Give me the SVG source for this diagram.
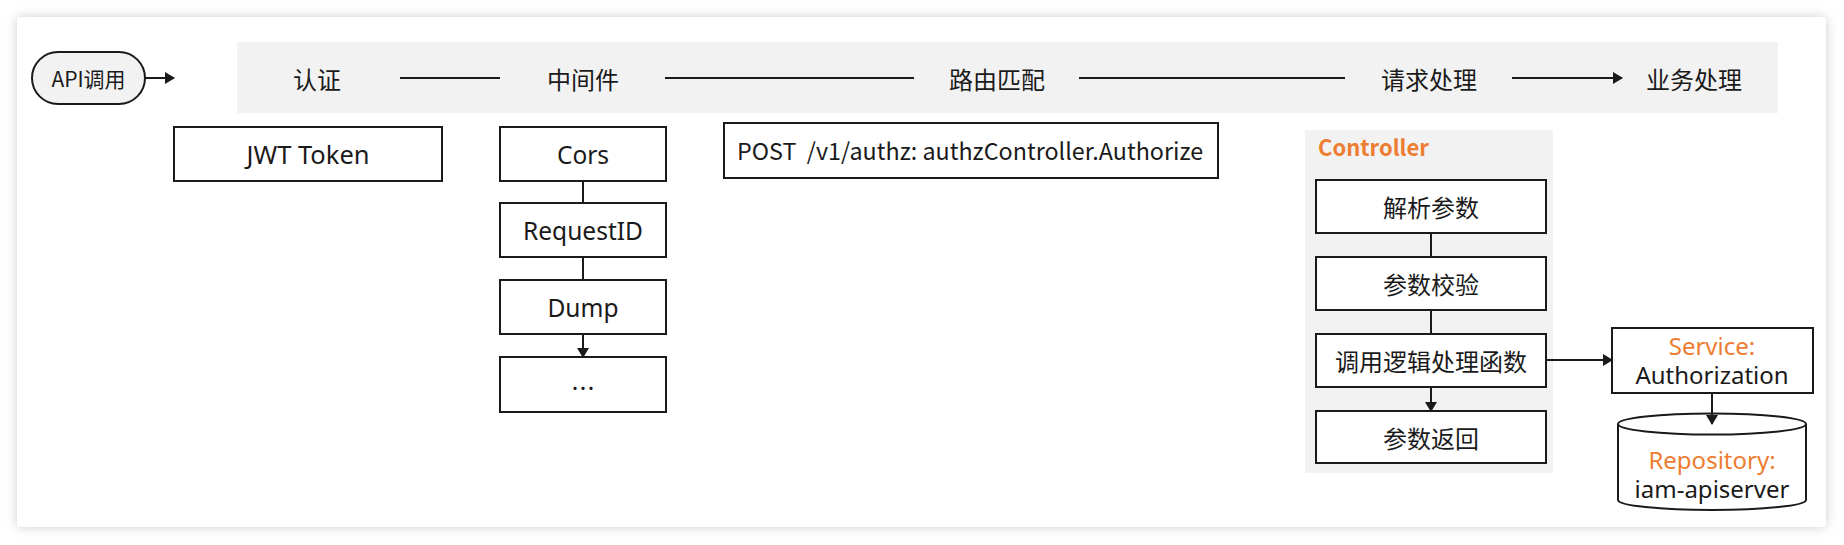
<svg xmlns="http://www.w3.org/2000/svg" width="1844" height="545" viewBox="0 0 1844 545">
  <style>
    .box { fill: #ffffff; stroke: #1a1a1a; stroke-width: 2; }
    .band { fill: #f2f2f2; }
    .cn { font-family: "Noto Sans CJK SC", "Noto Sans", sans-serif; font-size: 24px; fill: #1a1a1a; text-anchor: middle; dominant-baseline: central; }
    .lat { font-family: "Noto Sans", "Open Sans", sans-serif; font-size: 24.5px; fill: #1a1a1a; text-anchor: middle; dominant-baseline: central; }
    .post { font-family: "Noto Sans CJK SC", "Noto Sans", sans-serif; font-size: 23.3px; fill: #1a1a1a; }
    .orange { fill: #ED7D31; }
    .conn { stroke: #1a1a1a; stroke-width: 2; fill: none; }
  </style>
  <defs>
    <marker id="arrL" viewBox="0 0 10 10" refX="9" refY="5" markerWidth="10" markerHeight="12" markerUnits="userSpaceOnUse" orient="auto" preserveAspectRatio="none">
      <path d="M0,0 L10,5 L0,10 z" fill="#1a1a1a"/>
    </marker>
    <filter id="shadow" x="-5%" y="-10%" width="110%" height="120%">
      <feDropShadow dx="0" dy="0" stdDeviation="6" flood-color="#000000" flood-opacity="0.2"/>
    </filter>
  </defs>

  <rect x="0" y="0" width="1844" height="545" fill="#ffffff"/>
  <rect id="card" x="17" y="17" width="1809" height="510" rx="4" fill="#ffffff" filter="url(#shadow)"/>

  <g id="stage-band">
    <rect class="band" x="237" y="42" width="1541" height="71"/>
  </g>

  <g id="api-call">
    <rect x="32" y="52" width="113" height="52" rx="26" ry="26" fill="#f2f2f2" stroke="#1a1a1a" stroke-width="2"/>
    <text class="cn" x="88.5" y="78" style="font-size:21px">API调用</text>
  </g>

  <g id="stage-auth"><text class="cn" x="317" y="78">认证</text></g>
  <g id="stage-middleware"><text class="cn" x="583" y="78">中间件</text></g>
  <g id="stage-route"><text class="cn" x="997" y="78">路由匹配</text></g>
  <g id="stage-request"><text class="cn" x="1429" y="78">请求处理</text></g>
  <g id="stage-business"><text class="cn" x="1694" y="78">业务处理</text></g>

  <g id="jwt">
    <rect class="box" x="174" y="127" width="268" height="54"/>
    <text class="lat" x="308" y="154" style="font-size:25.5px">JWT Token</text>
  </g>

  <g id="cors">
    <rect class="box" x="500" y="127" width="166" height="54"/>
    <text class="lat" x="583" y="154">Cors</text>
  </g>
  <g id="requestid">
    <rect class="box" x="500" y="203" width="166" height="54"/>
    <text class="lat" x="583" y="230">RequestID</text>
  </g>
  <g id="dump">
    <rect class="box" x="500" y="280" width="166" height="54"/>
    <text class="lat" x="583" y="307">Dump</text>
  </g>
  <g id="more">
    <rect class="box" x="500" y="357" width="166" height="55"/>
    <text class="cn" x="583" y="386">…</text>
  </g>

  <g id="route">
    <rect class="box" x="724" y="123" width="494" height="55"/>
    <text class="post" x="737" y="150" dominant-baseline="central" xml:space="preserve">POST  /v1/authz: authzController.Authorize</text>
  </g>

  <g id="controller">
    <rect x="1305" y="130" width="248" height="343" fill="#f2f2f2"/>
    <text x="1318" y="156" font-family="'Noto Sans CJK SC', 'Noto Sans', sans-serif" font-size="22" font-weight="bold" fill="#ED7D31">Controller</text>
  </g>
  <g id="parse">
    <rect class="box" x="1316" y="180" width="230" height="53"/>
    <text class="cn" x="1431" y="206.5">解析参数</text>
  </g>
  <g id="validate">
    <rect class="box" x="1316" y="257" width="230" height="53"/>
    <text class="cn" x="1431" y="283.5">参数校验</text>
  </g>
  <g id="invoke">
    <rect class="box" x="1316" y="334" width="230" height="53"/>
    <text class="cn" x="1431" y="360.5">调用逻辑处理函数</text>
  </g>
  <g id="return">
    <rect class="box" x="1316" y="411" width="230" height="52"/>
    <text class="cn" x="1431" y="437">参数返回</text>
  </g>

  <g id="service">
    <rect class="box" x="1612" y="328" width="201" height="65"/>
    <text class="lat orange" x="1712" y="345" style="font-size:24px">Service:</text>
    <text class="lat" x="1712" y="374" style="font-size:24px">Authorization</text>
  </g>

  <g id="repository">
    <path d="M1618,424 L1618,500 A94,10 0 0 0 1806,500 L1806,424" fill="#ffffff" stroke="#1a1a1a" stroke-width="2"/>
    <ellipse cx="1712" cy="424" rx="94" ry="10.5" fill="#ffffff" stroke="#1a1a1a" stroke-width="2"/>
    <text class="lat orange" x="1712" y="459" style="font-size:24px">Repository:</text>
    <text class="lat" x="1712" y="488" style="font-size:24px">iam-apiserver</text>
  </g>

  <g id="connectors">
    <line class="conn" x1="145" y1="78" x2="174" y2="78" marker-end="url(#arrL)"/>
    <line class="conn" x1="400" y1="78" x2="500" y2="78"/>
    <line class="conn" x1="665" y1="78" x2="914" y2="78"/>
    <line class="conn" x1="1079" y1="78" x2="1345" y2="78"/>
    <line class="conn" x1="1512" y1="78" x2="1622" y2="78" marker-end="url(#arrL)"/>

    <line class="conn" x1="583" y1="181" x2="583" y2="203"/>
    <line class="conn" x1="583" y1="257" x2="583" y2="280"/>
    <line class="conn" x1="583" y1="334" x2="583" y2="357" marker-end="url(#arrL)"/>

    <line class="conn" x1="1431" y1="233" x2="1431" y2="257"/>
    <line class="conn" x1="1431" y1="310" x2="1431" y2="334"/>
    <line class="conn" x1="1431" y1="387" x2="1431" y2="411" marker-end="url(#arrL)"/>
    <line class="conn" x1="1546" y1="360" x2="1612" y2="360" marker-end="url(#arrL)"/>
    <line class="conn" x1="1712" y1="393" x2="1712" y2="424" marker-end="url(#arrL)"/>
  </g>
</svg>
